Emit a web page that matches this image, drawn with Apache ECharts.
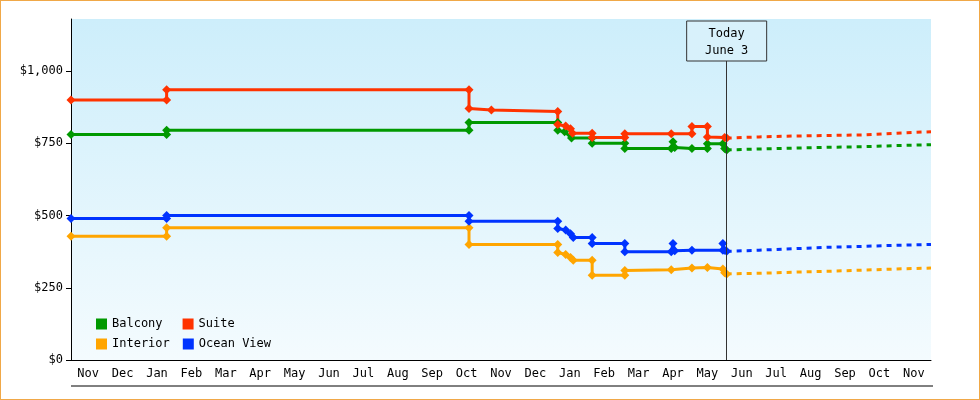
<!DOCTYPE html>
<html><head><meta charset="utf-8">
<script src="https://cdn.jsdelivr.net/npm/echarts@6/dist/echarts.min.js"></script>
<style>html,body{margin:0;padding:0;background:#fff}#c{width:978px;height:398px;border:1px solid #f0a848}</style>
</head><body><div id="c"></div>
<script>
const months = ['Nov','Dec','Jan','Feb','Mar','Apr','May','Jun','Jul','Aug','Sep','Oct','Nov','Dec','Jan','Feb','Mar','Apr','May','Jun','Jul','Aug','Sep','Oct','Nov'];
const yTicks = [0,250,500,750,1000];
const todayX = 19.06;
const balcony = [[0,780],[2.78,780],[2.78,795],[11.57,795],[11.57,822],[14.15,822],[14.15,795],[14.35,790],[14.55,768],[15.15,768],[15.15,750],[16.1,750],[16.1,732],[17.45,732],[17.5,755],[17.55,735],[18.05,732],[18.5,732],[18.5,748],[18.95,748],[19.0,732],[19.06,727]];
const suite = [[0,900],[2.78,900],[2.78,935],[11.57,935],[11.57,870],[12.22,865],[14.15,860],[14.15,815],[14.38,810],[14.52,800],[14.58,785],[15.15,785],[15.15,770],[16.1,770],[16.1,783],[17.45,783],[18.05,783],[18.05,808],[18.5,808],[18.5,772],[19.0,770],[19.06,768]];
const interior = [[0,428],[2.78,428],[2.78,458],[11.57,458],[11.57,400],[14.15,400],[14.15,372],[14.38,365],[14.52,355],[14.6,345],[15.15,345],[15.15,293],[16.1,293],[16.1,310],[17.45,312],[18.05,318],[18.5,320],[18.95,315],[19.0,302],[19.06,298]];
const ocean = [[0,490],[2.78,490],[2.78,500],[11.57,500],[11.57,480],[14.15,480],[14.15,455],[14.38,450],[14.52,437],[14.6,424],[15.15,424],[15.15,403],[16.1,403],[16.1,375],[17.45,375],[17.5,403],[17.55,378],[18.05,380],[18.95,380],[18.95,403],[19.0,380],[19.06,376]];
const balconyF = [[19.06,727],[20,730],[21,733],[22,736],[23,738],[24,742],[25,745]];
const suiteF = [[19.06,768],[20,772],[21,775],[22,777],[23,779],[24,785],[25,790]];
const interiorF = [[19.06,298],[20,300],[21,304],[22,307],[23,311],[24,315],[25,318]];
const oceanF = [[19.06,376],[20,380],[21,385],[22,390],[23,393],[24,397],[25,400]];
const colors = {Balcony:'#009900',Suite:'#ff3300',Interior:'#ffa500','Ocean View':'#0033ff'};
const F = 'DejaVu Sans Mono';
const chart = echarts.init(document.getElementById('c'));
function solid(name,d){return {name,type:'line',data:d,xAxisIndex:1,color:colors[name],symbol:'diamond',symbolSize:9,lineStyle:{width:3},z:3};}
function dash(name,d){return {name:name+' f',type:'line',data:d,xAxisIndex:1,color:colors[name],symbol:'none',lineStyle:{width:3,type:[5,5]},z:3};}
chart.setOption({
  animation:false,
  backgroundColor:'#fff',
  grid:{left:70,right:48,top:18,bottom:39,show:true,borderWidth:0,
    backgroundColor:new echarts.graphic.LinearGradient(0,0,0,1,[{offset:0,color:'#cdeefb'},{offset:1,color:'#f4fbfe'}])},
  legend:[
    {data:['Balcony','Suite'],left:90,top:312,itemWidth:11,itemHeight:11,icon:'rect',itemGap:20,textStyle:{fontFamily:F,fontSize:12,color:'#000'}},
    {data:['Interior','Ocean View'],left:90,top:332,itemWidth:11,itemHeight:11,icon:'rect',itemGap:13,textStyle:{fontFamily:F,fontSize:12,color:'#000'}}
  ],
  xAxis:[
    {type:'category',data:months,boundaryGap:true,position:'bottom',
      axisLine:{lineStyle:{color:'#000'}},axisTick:{length:25,interval:0,lineStyle:{color:'#000'}},
      axisLabel:{interval:0,fontFamily:F,fontSize:12,color:'#000',margin:8}},
    {type:'value',min:0,max:25,show:false}
  ],
  yAxis:{type:'value',min:0,max:1180,interval:250,
    axisLine:{show:true,lineStyle:{color:'#000'}},axisTick:{show:true,length:5,lineStyle:{color:'#000'}},
    splitLine:{show:false},
    axisLabel:{fontFamily:F,fontSize:12,color:'#000',showMaxLabel:false,
      formatter:v=>'$'+v.toLocaleString('en-US')}},
  series:[
    solid('Balcony',balcony),solid('Suite',suite),solid('Interior',interior),solid('Ocean View',ocean),
    dash('Balcony',balconyF),dash('Suite',suiteF),dash('Interior',interiorF),dash('Ocean View',oceanF),
    {type:'line',xAxisIndex:1,data:[],markLine:{silent:true,symbol:'none',label:{show:false},
      lineStyle:{color:'#333',width:1,type:'solid'},data:[[{coord:[todayX,0]},{coord:[todayX,1040]}]]}}
  ]
});
const px = chart.convertToPixel({xAxisIndex:1},todayX);
chart.setOption({graphic:[
  {type:'line',shape:{x1:70,y1:385,x2:932,y2:385},style:{stroke:'#000',lineWidth:1}},
  {type:'rect',shape:{x:px-40,y:20,width:80,height:40},style:{fill:'#d8f1fb',stroke:'#333',lineWidth:1},z:10},
  {type:'text',x:px,y:24,style:{text:'Today\nJune 3',fontFamily:F,fontSize:12,fill:'#000',align:'center',lineHeight:17},z:11}
]});
</script></body></html>
